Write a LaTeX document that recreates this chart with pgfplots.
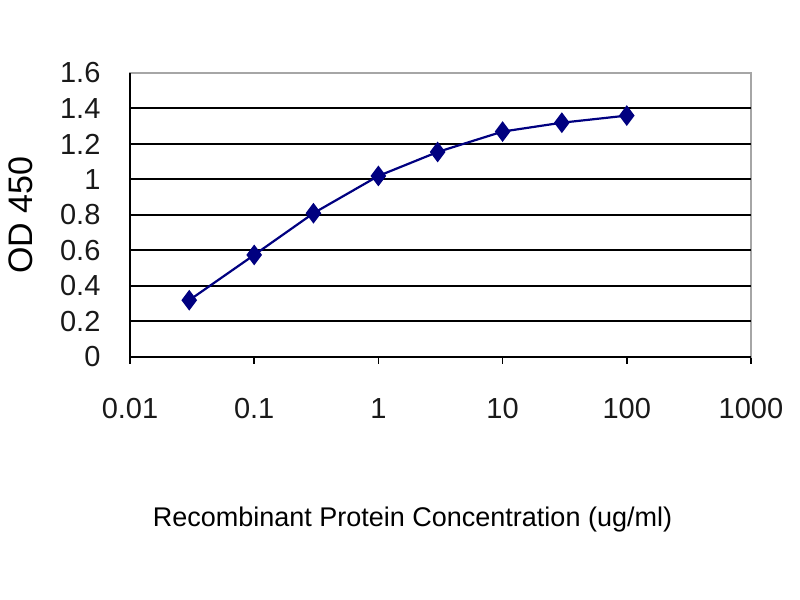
\documentclass[border=0pt]{standalone}
\usepackage{fontspec}
\setmainfont{Liberation Sans}
\usepackage{pgfplots}
\pgfplotsset{compat=1.18}
\definecolor{navy}{RGB}{0,0,128}

\begin{document}
\begin{tikzpicture}
\path[use as bounding box] (0,0) rectangle (400pt,300pt);
\begin{axis}[
    at={(65pt,121.5pt)}, anchor=south west,
    scale only axis,
    width=310.5pt, height=142pt,
    xmode=log,
    xmin=0.01, xmax=1000,
    ymin=0, ymax=1.6,
    xtick={0.01,0.1,1,10,100,1000},
    xticklabels={0.01,0.1,1,10,100,1000},
    ytick={0,0.2,0.4,0.6,0.8,1,1.2,1.4,1.6},
    yticklabels={0,0.2,0.4,0.6,0.8,1,1.2,1.4,1.6},
    minor x tick num=0,
    log basis x=10,
    xtick pos=bottom, ytick pos=left,
    tick align=outside,
    x tick style={black, line width=0.8pt},
    xtick style={/pgfplots/major tick length=3.5pt},
    y tick style={draw=none},
    axis line style={gray!70, line width=1pt},
    tick label style={font=\fontsize{14.5}{16}\selectfont, text=black!90},
    xticklabel style={yshift=-13pt},
    yticklabel style={xshift=-7pt},
    extra y ticks={0.2,0.4,0.6,0.8,1,1.2,1.4},
    extra y tick labels={},
    extra y tick style={ymajorgrids=true},
    major grid style={black, line width=1pt},
    xlabel={Recombinant Protein Concentration (ug/ml)},
    ylabel={OD 450},
    xlabel style={font=\fontsize{13.5}{15}\selectfont, yshift=-37pt, xshift=-14pt},
    ylabel style={font=\fontsize{17}{19}\selectfont, yshift=-2pt},
    clip=false,
]
\draw[black, line width=1pt] (rel axis cs:0,1) -- (rel axis cs:0,0) -- (rel axis cs:1,0);
\addplot[color=navy, line width=1.1pt, mark=diamond*, mark size=4.3pt,
    mark options={fill=navy, draw=navy}]
coordinates {
    (0.03,0.32)
    (0.1,0.575)
    (0.3,0.81)
    (1,1.02)
    (3,1.155)
    (10,1.27)
    (30,1.32)
    (100,1.36)
};
\end{axis}
\end{tikzpicture}
\end{document}
